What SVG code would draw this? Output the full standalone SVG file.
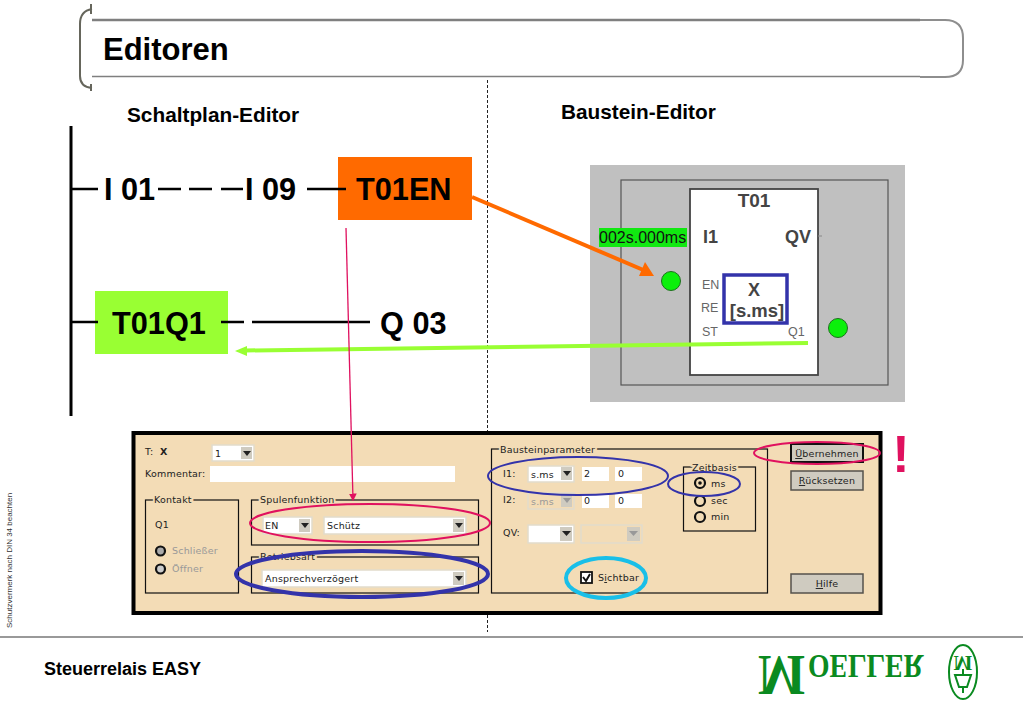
<svg xmlns="http://www.w3.org/2000/svg" width="1023" height="708" viewBox="0 0 1023 708">
<style>
text{font-family:"Liberation Sans",Arial,sans-serif}
.h{font-weight:bold;fill:#000}
.big{font-size:30.700px;font-weight:bold;fill:#000}
.ui{font-family:"DejaVu Sans",sans-serif;font-size:9.500px;letter-spacing:.2px;fill:#222}
.dim{fill:#999}
.box{fill:none;stroke:#111;stroke-width:1.200}
.lbl{stroke:#f3dcb6;stroke-width:4;paint-order:stroke}
.field{fill:#fff;stroke:#e2dbcb;stroke-width:1.500}
.btn{fill:#cfcbc0;stroke:#55524c;stroke-width:1.500}
.wire{stroke:#000;stroke-width:2.500;fill:none}
.drop{fill:#cfcbc0}
.tri{fill:#222}
.tri2{fill:#999}
.radio{fill:none;stroke:#111;stroke-width:2.200}
.led{fill:#0bf00b;stroke:#1f6f1f;stroke-width:1}
.tag{font-size:12.500px;fill:#666}
.logo{font-family:"Liberation Serif",serif;font-weight:bold;fill:#0a8a20}
</style>
<defs>
<marker id="mp" markerWidth="6" markerHeight="6" refX="5" refY="3" orient="auto"><path d="M0 0L6 3L0 6Z" fill="#e0115f"/></marker>
</defs>
<rect width="1023" height="708" fill="#fff"/>

<g id="header">
<path d="M920 20H945Q963 20 963 38V60Q963 77 945 77H920" fill="none" stroke="#8e8e8e" stroke-width="2"/>
<path d="M92 20H920" stroke="#7f7f7f" stroke-width="2.500" fill="none"/>
<path d="M92 76.500H920" stroke="#7f7f7f" stroke-width="1.500" fill="none"/>
<path d="M91 4V14M92 9Q80 11 80 24V76Q80 87 92 88M91 84V91" fill="none" stroke="#66665c" stroke-width="2"/>
<text x="103" y="60" class="h" font-size="31">Editoren</text>
</g>

<text x="127" y="122" class="h" font-size="20.800">Schaltplan-Editor</text>
<text x="561" y="119" class="h" font-size="20.800">Baustein-Editor</text>
<path d="M487.500 80V632" stroke="#222" stroke-width="1" stroke-dasharray="3 2" fill="none"/>

<g id="block-editor">
<rect x="590" y="165" width="315" height="237" fill="#c0c0c0"/>
<rect x="621" y="180" width="267" height="205" fill="none" stroke="#555" stroke-width="1.200"/>
<rect x="690" y="189" width="128" height="186" fill="#fff" stroke="#444" stroke-width="1.800"/>
<text x="754" y="207" text-anchor="middle" font-size="19" font-weight="bold" fill="#444">T01</text>
<rect x="599" y="228" width="88" height="19" fill="#11e811"/>
<text x="599" y="243" font-size="16" fill="#111">002s.000ms</text>
<text x="703" y="243" font-size="18" font-weight="bold" fill="#444">I1</text>
<text x="785" y="243" font-size="18" font-weight="bold" fill="#444">QV</text>
<path d="M818 236H822" stroke="#888" fill="none"/>
<circle cx="671" cy="281" r="9.500" class="led"/>
<circle cx="838" cy="328" r="9.500" class="led"/>
<text x="702" y="289" class="tag">EN</text>
<text x="701" y="312" class="tag">RE</text>
<text x="702" y="336" class="tag">ST</text>
<text x="788" y="336" class="tag">Q1</text>
<rect x="724" y="275" width="63" height="48" fill="none" stroke="#3333aa" stroke-width="3.500"/>
<text x="754" y="296" text-anchor="middle" font-size="18" font-weight="bold" fill="#444">X</text>
<text x="757" y="317" text-anchor="middle" font-size="18.500" font-weight="bold" fill="#444">[s.ms]</text>
</g>

<g id="schaltplan">
<path d="M71 126V416" stroke="#000" stroke-width="3" fill="none"/>
<rect x="338" y="157" width="134" height="63" fill="#ff6a00"/>
<rect x="95" y="291" width="133" height="63" fill="#99ff33"/>
<text x="104" y="200" class="big">I 01</text>
<text x="245" y="200" class="big">I 09</text>
<text x="356" y="200" class="big">T01EN</text>
<text x="112" y="334" class="big">T01Q1</text>
<text x="380" y="334" class="big">Q 03</text>
</g>

<g id="connectors">
<path class="wire" d="M72 189H98M158 189H181M189 189H212M221 189H243M307 189H346"/>
<path class="wire" d="M72 322H98M221 322H244M252 322H370"/>
<path d="M472 197L648 272" stroke="#ff6a00" stroke-width="4" fill="none"/>
<path d="M654 276L639 276L645 262Z" fill="#ff6a00"/>
<path d="M808 343L245 350.500" stroke="#99ff33" stroke-width="4" fill="none"/>
<path d="M235 351L247 346V356Z" fill="#99ff33"/>
</g>

<g id="dialog">
<rect x="133.500" y="433" width="747" height="180" fill="#f3dcb6" stroke="#000" stroke-width="4"/>
<text x="145" y="455" class="ui">T:</text>
<text x="160" y="455" class="ui" font-weight="bold" fill="#000">X</text>
<rect x="212" y="445" width="42" height="16" class="field"/><rect x="241" y="447" width="11" height="12" class="drop"/><path class="tri" d="M243 451H251L247 456Z"/>
<text x="215" y="457" class="ui">1</text>
<text x="145" y="477" class="ui">Kommentar:</text>
<rect x="210" y="466" width="245" height="16" fill="#fff"/>

<rect x="145.500" y="500" width="93" height="93" class="box"/>
<text x="154" y="503" class="ui lbl">Kontakt</text>
<text x="155" y="528" class="ui">Q1</text>
<circle cx="160.500" cy="551" r="4.500" class="radio" style="fill:#aaa"/>
<circle cx="160.500" cy="569" r="4.500" class="radio" style="fill:#ccc"/>
<text x="172" y="554" class="ui dim">Schließer</text>
<text x="172" y="572" class="ui dim">Öffner</text>

<rect x="251.500" y="500" width="227" height="45" class="box"/>
<text x="260" y="503" class="ui lbl">Spulenfunktion</text>
<rect x="263" y="517" width="49" height="17" class="field"/><rect x="299" y="519" width="11" height="13" class="drop"/><path class="tri" d="M301 523H309L305 528Z"/>
<text x="265" y="529" class="ui">EN</text>
<rect x="324" y="517" width="142" height="17" class="field"/><rect x="453" y="519" width="11" height="13" class="drop"/><path class="tri" d="M455 523H463L459 528Z"/>
<text x="327" y="529" class="ui">Schütz</text>

<rect x="251.500" y="557" width="227" height="36" class="box"/>
<text x="260" y="560" class="ui lbl">Betriebsart</text>
<rect x="262" y="570" width="204" height="17" class="field"/><rect x="453" y="572" width="11" height="13" class="drop"/><path class="tri" d="M455 576H463L459 581Z"/>
<text x="265" y="582" class="ui">Ansprechverzögert</text>

<rect x="491.500" y="449" width="276" height="144" class="box"/>
<text x="500" y="453" class="ui lbl">Bausteinparameter</text>
<text x="503" y="477" class="ui">I1:</text>
<rect x="528" y="466" width="46" height="16" class="field"/><rect x="561" y="467" width="11" height="13" class="drop"/><path class="tri" d="M563 471H571L567 476Z"/>
<text x="531" y="478" class="ui">s.ms</text>
<rect x="582" y="467" width="27" height="14" fill="#fff"/><text x="584" y="477" class="ui">2</text>
<rect x="615" y="467" width="27" height="14" fill="#fff"/><text x="618" y="477" class="ui">0</text>
<text x="503" y="503" class="ui">I2:</text>
<rect x="528" y="493" width="46" height="16" class="field" style="fill:#f3dcb6"/><rect x="561" y="494" width="11" height="13" class="drop"/><path class="tri2" d="M563 498H571L567 503Z"/>
<text x="531" y="505" class="ui dim">s.ms</text>
<rect x="582" y="494" width="27" height="14" fill="#fff"/><text x="584" y="504" class="ui">0</text>
<rect x="615" y="494" width="27" height="14" fill="#fff"/><text x="618" y="504" class="ui">0</text>
<text x="503" y="536" class="ui">QV:</text>
<rect x="528" y="525" width="46" height="18" class="field"/><rect x="560" y="527" width="12" height="14" class="drop"/><path class="tri" d="M562 531H571L566.500 536Z"/>
<rect x="581" y="525" width="61" height="18" class="field" style="fill:#f3dcb6"/><rect x="627" y="527" width="13" height="14" class="drop"/><path class="tri2" d="M629 531H638L633.500 536Z"/>

<rect x="683.500" y="467" width="72" height="64" class="box"/>
<text x="692" y="471" class="ui lbl">Zeitbasis</text>
<circle cx="700" cy="483" r="5" class="radio"/><circle cx="700" cy="483" r="1.800" fill="#111"/>
<circle cx="700" cy="501" r="5" class="radio"/>
<circle cx="700" cy="517" r="5" class="radio"/>
<text x="711" y="487" class="ui">ms</text>
<text x="711" y="504" class="ui">sec</text>
<text x="711" y="520" class="ui">min</text>

<rect x="581" y="572" width="11" height="11" fill="#fff" stroke="#111" stroke-width="1.800"/>
<path d="M583 577L586 581L590 574" fill="none" stroke="#111" stroke-width="2"/>
<text x="598" y="581" class="ui">S<tspan text-decoration="underline">i</tspan>chtbar</text>

<rect x="791" y="444" width="72" height="18" class="btn" style="stroke:#111;stroke-width:2"/>
<text x="827" y="457" text-anchor="middle" class="ui"><tspan text-decoration="underline">Ü</tspan>bernehmen</text>
<rect x="791" y="471" width="72" height="19" class="btn"/>
<text x="827" y="484" text-anchor="middle" class="ui"><tspan text-decoration="underline">R</tspan>ücksetzen</text>
<rect x="791" y="574" width="72" height="19" class="btn"/>
<text x="827" y="587" text-anchor="middle" class="ui"><tspan text-decoration="underline">H</tspan>ilfe</text>
</g>

<g id="highlights" fill="none">
<ellipse cx="370" cy="523" rx="120" ry="19" stroke="#e0115f" stroke-width="2"/>
<ellipse cx="362" cy="574" rx="126" ry="23" stroke="#3333aa" stroke-width="4"/>
<ellipse cx="578" cy="476" rx="90" ry="19" stroke="#3333aa" stroke-width="2"/>
<ellipse cx="704" cy="484" rx="36" ry="12" stroke="#3333aa" stroke-width="2"/>
<ellipse cx="606" cy="578" rx="40" ry="20" stroke="#19bfe8" stroke-width="4"/>
<ellipse cx="817" cy="453" rx="63" ry="11" stroke="#e0115f" stroke-width="2"/>
<path d="M346 228L353 500" stroke="#e0115f" stroke-width="1.300" marker-end="url(#mp)"/>
</g>
<text x="901" y="472" text-anchor="middle" font-size="52" font-weight="bold" fill="#e0115f">!</text>

<text transform="translate(12 628) rotate(-90)" font-size="8" fill="#333">Schutzvermerk nach DIN 34 beachten</text>
<path d="M0 637H1023" stroke="#777" stroke-width="1.500" fill="none"/>
<text x="44" y="675" class="h" font-size="18">Steuerrelais EASY</text>

<g id="logo">
<text transform="translate(758 656) scale(.9 -1)" class="logo" font-size="56">M</text>
<text transform="translate(808 655) scale(.84 -1)" class="logo" font-size="33">OELLER</text>
<ellipse cx="963" cy="672" rx="14" ry="27" fill="none" stroke="#0a8a20" stroke-width="2"/>
<text transform="translate(963 656) scale(1 -1)" class="logo" font-size="20" text-anchor="middle">M</text>
<path d="M963 669V674M955 675H971L967 687H959ZM963 687V693" fill="none" stroke="#0a8a20" stroke-width="2"/>
</g>
</svg>
